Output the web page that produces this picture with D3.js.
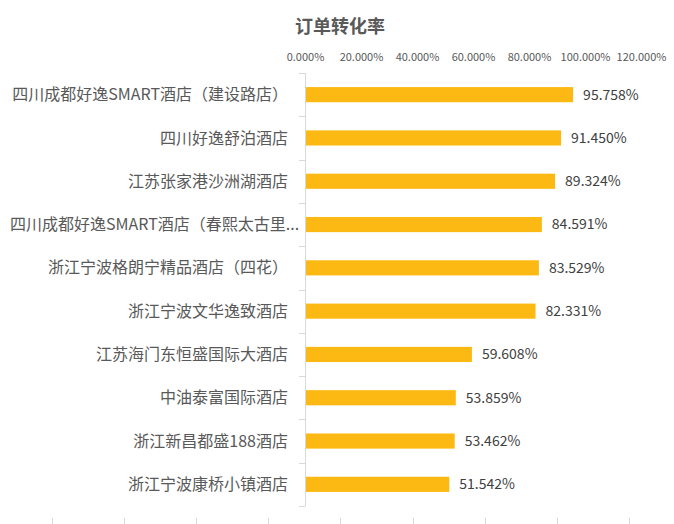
<!DOCTYPE html>
<html>
<head>
<meta charset="utf-8">
<script src="https://cdn.jsdelivr.net/npm/d3@7"></script>
<style>
  body { margin: 0; background: #fff; }
  svg text { font-family: "Noto Sans CJK SC", "Noto Sans", sans-serif; }
</style>
</head>
<body>
<svg id="chart" width="674" height="524"></svg>
<script>
// data
var hotels = [
	"四川成都好逸SMART酒店（建设路店）",
	"四川好逸舒泊酒店",
	"江苏张家港沙洲湖酒店",
	"四川成都好逸SMART酒店（春熙太古里...",
	"浙江宁波格朗宁精品酒店（四花）",
	"浙江宁波文华逸致酒店",
	"江苏海门东恒盛国际大酒店",
	"中油泰富国际酒店",
	"浙江新昌都盛188酒店",
	"浙江宁波康桥小镇酒店"
];
var rates = [0.95758, 0.91450, 0.89324, 0.84591, 0.83529, 0.82331, 0.59608, 0.53859, 0.53462, 0.51542];
var xTicks = [0, 0.2, 0.4, 0.6, 0.8, 1.0, 1.2];
var title = "订单转化率";

var svg = d3.select("svg#chart"),
	margin = {top: 73, right: 33, bottom: 18, left: 305},
	width = +svg.attr("width") - margin.left - margin.right,
	height = +svg.attr("height") - margin.top - margin.bottom;

var g = svg.append("g").attr("transform", "translate(" + margin.left + "," + margin.top + ")");

var x = d3.scaleLinear().domain([0, 1.2]).range([0, 336]);
var y = d3.scaleBand().domain(hotels).range([0, 433]).paddingInner(0.65).paddingOuter(0.325);

var fmt = d3.format(".3%");

// faint sheet gridline stubs along the bottom edge
var stubs = d3.range(52, 674, 72.1);
svg.append("g").selectAll("line")
	.data(stubs)
  .enter().append("line")
	.attr("x1", function(d) { return Math.round(d) + 0.5; })
	.attr("x2", function(d) { return Math.round(d) + 0.5; })
	.attr("y1", 518).attr("y2", 524)
	.attr("stroke", "#d9d9d9");

// title
svg.append("text")
	.attr("x", 340).attr("y", 33)
	.attr("text-anchor", "middle")
	.attr("font-size", 18)
	.attr("font-weight", "bold")
	.attr("fill", "#595959")
	.text(title);

// top value axis (labels only)
g.append("g")
	.attr("class", "axis axis--x")
	.attr("transform", "translate(0,-9)")
	.call(d3.axisTop(x).tickValues(xTicks).tickFormat(fmt).tickSize(0))
	.call(function(a) { a.select(".domain").remove(); })
	.selectAll("text")
	.attr("fill", "#595959")
	.attr("font-size", 11);

// category axis
var yAxis = g.append("g")
	.attr("class", "axis axis--y");
yAxis.append("line")
	.attr("x1", 0.5).attr("x2", 0.5)
	.attr("y1", 0).attr("y2", 433)
	.attr("stroke", "#d9d9d9");
yAxis.selectAll("line.tick")
	.data(d3.range(hotels.length + 1))
  .enter().append("line")
	.attr("class", "tick")
	.attr("x1", -6).attr("x2", 0.5)
	.attr("y1", function(i) { return Math.round(i * y.step()) + 0.5; })
	.attr("y2", function(i) { return Math.round(i * y.step()) + 0.5; })
	.attr("stroke", "#d9d9d9");
yAxis.selectAll("text")
	.data(hotels)
  .enter().append("text")
	.attr("x", -17)
	.attr("y", function(d) { return y(d) + y.bandwidth() / 2; })
	.attr("dy", "0.35em")
	.attr("text-anchor", "end")
	.attr("font-size", 16)
	.attr("fill", "#595959")
	.text(function(d) { return d; })
	.each(function() {
		// long labels start at the left edge and run on to the right, as in the sheet
		var b = this.getBBox();
		var left = margin.left + b.x;
		if (left < 10) d3.select(this).attr("x", -17 + (10 - left));
	});

// bars
var rows = hotels.map(function(h, i) { return {name: h, value: rates[i]}; });
g.append("g").selectAll("rect")
	.data(rows)
  .enter().append("rect")
	.attr("x", 1)
	.attr("y", function(d) { return y(d.name); })
	.attr("width", function(d) { return x(d.value) - 1; })
	.attr("height", y.bandwidth())
	.attr("fill", "#FDB913");

// value labels
g.append("g").selectAll("text")
	.data(rows)
  .enter().append("text")
	.attr("x", function(d) { return x(d.value) + 10; })
	.attr("y", function(d) { return y(d.name) + y.bandwidth() / 2; })
	.attr("dy", "0.35em")
	.attr("font-size", 14)
	.attr("fill", "#404040")
	.text(function(d) { return fmt(d.value); });
</script>
</body>
</html>
